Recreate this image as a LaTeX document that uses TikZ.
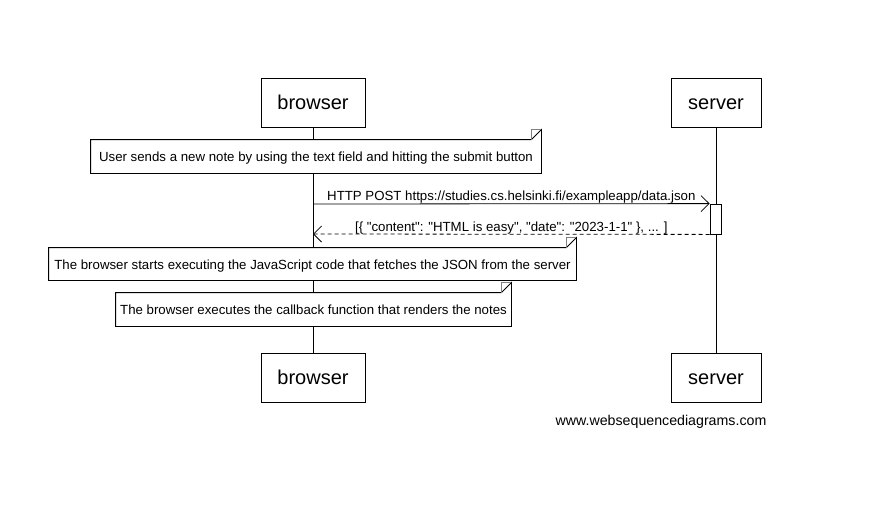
\documentclass[tikz,border=0pt]{standalone}
\usepackage{fontspec}
\setmainfont{Liberation Sans}
\usetikzlibrary{arrows.meta,backgrounds}
\newcommand\qq{\textquotedbl}
\begin{document}
\begin{tikzpicture}[x=1pt,y=-1pt,
  actor/.style={draw,fill=white,minimum width=104pt,minimum height=49pt,inner sep=0pt,text height=16.5pt,text depth=2.2pt,font=\fontsize{20}{24}\selectfont,line width=0.8pt},
  notebox/.style={fill=white,inner sep=0pt,text height=12pt,text depth=1.1pt,font=\fontsize{13.25}{15}\selectfont},
  msg/.style={font=\fontsize{13.25}{15}\selectfont},
  barb/.style={-{Straight Barb[length=8pt,width=16pt,line width=0.8pt]}},
  line width=0.8pt]
\useasboundingbox (0,0) rectangle (890,523);
\newcommand\notedraw[1]{%
  \draw (#1.south west) -- (#1.north west) -- ([xshift=-10pt]#1.north east) -- ([yshift=10pt]#1.north east) -- (#1.south east) -- cycle;
  \draw[gray] ([xshift=-10pt]#1.north east) |- ([yshift=10pt]#1.north east);}
% actors
\node[actor] (bt) at (313,102.5) {browser};
\node[actor,minimum width=90pt] (st) at (716,102.5) {server};
\node[actor] (bb) at (313,377.5) {browser};
\node[actor,minimum width=90pt] (sb) at (716,377.5) {server};
\begin{scope}[on background layer]
\draw (bt.south) -- (bb.north);
\draw (st.south) -- (sb.north);
\end{scope}
% notes
\node[notebox,minimum width=450pt,minimum height=33pt] (n1) at (316,156.5) {User sends a new note by using the text field and hitting the submit button};
\notedraw{n1}
\node[notebox,minimum width=527pt,minimum height=32pt] (n2) at (312.5,264) {The browser starts executing the JavaScript code that fetches the JSON from the server};
\notedraw{n2}
\node[notebox,minimum width=395pt,minimum height=33pt] (n3) at (313.5,309.5) {The browser executes the callback function that renders the notes};
\notedraw{n3}
% activation
\node[draw,fill=white,minimum width=11pt,minimum height=30pt,inner sep=0pt] (act) at (715.5,219) {};
% messages
\coordinate (b1) at (313,204);
\coordinate (b2) at (313,234);
\draw[barb] (b1) -- (act.north west) node[msg,midway,above=-3.5pt] {HTTP POST https://studies.cs.helsinki.fi/exampleapp/data.json};
\draw[barb,dashed,dash pattern=on 4pt off 3pt] (act.south west) -- (b2) node[msg,midway,above=-3.5pt] {[\{ \qq content\qq: \qq HTML is easy\qq, \qq date\qq: \qq 2023-1-1\qq\ \}, ... ]};
\node[font=\fontsize{14.2}{16}\selectfont] (wm) at (661,422) {www.websequencediagrams.com};
\end{tikzpicture}
\end{document}
